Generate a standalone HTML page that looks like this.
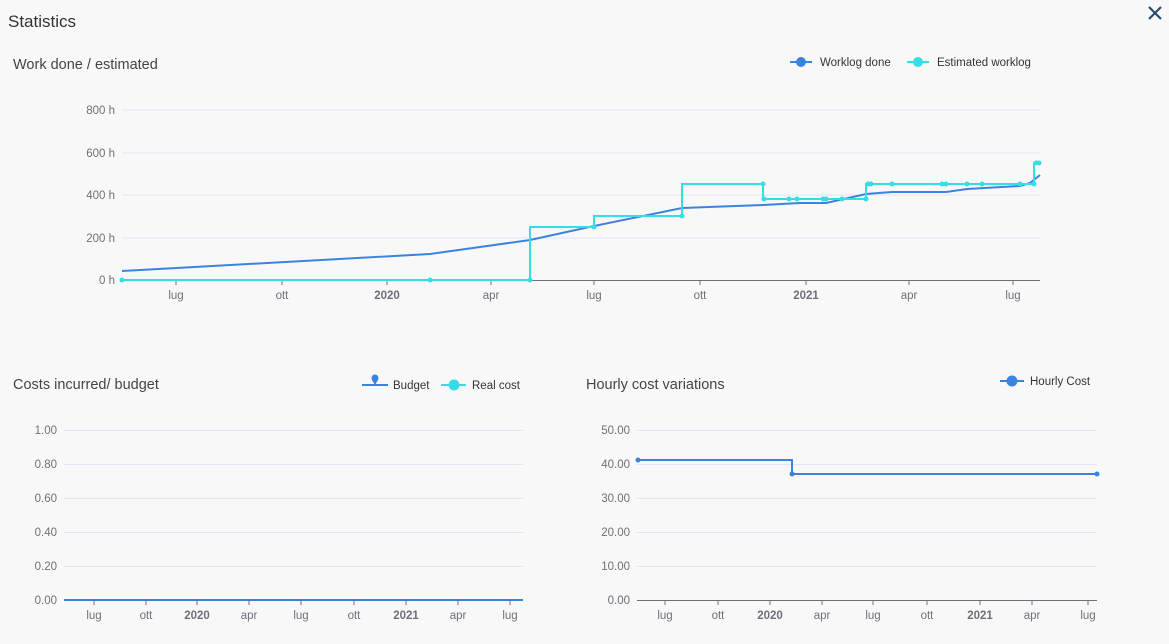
<!DOCTYPE html><html><head><style>
body{margin:0;background:#f8f8f9;width:1169px;height:644px;overflow:hidden;font-family:"Liberation Sans",sans-serif}
svg{position:absolute;left:0;top:0}
</style></head><body>
<svg width="1169" height="644" font-family="Liberation Sans, sans-serif">
<text x="8" y="27" font-size="17" fill="#333">Statistics</text>
<path d="M1149 7l12 12M1161 7l-12 12" stroke="#2b4a6e" stroke-width="2.2"/>
<text x="13" y="69" font-size="14.5" fill="#444">Work done / estimated</text>
<!-- legend top -->
<line x1="790" y1="62" x2="812" y2="62" stroke="#3a84e0" stroke-width="2"/><circle cx="801" cy="62" r="5" fill="#3a84e0"/>
<text x="820" y="66" font-size="11.5" fill="#333">Worklog done</text>
<line x1="907" y1="62" x2="929" y2="62" stroke="#36dde4" stroke-width="2"/><circle cx="918" cy="62" r="5" fill="#36dde4"/>
<text x="937" y="66" font-size="11.5" fill="#333">Estimated worklog</text>
<g stroke="#e0e6f1"><line x1="122" x2="1040" y1="110" y2="110"/><line x1="122" x2="1040" y1="153" y2="153"/><line x1="122" x2="1040" y1="195" y2="195"/><line x1="122" x2="1040" y1="238" y2="238"/></g>
<g font-size="11.5" fill="#6e7079" text-anchor="end"><text x="115" y="114">800 h</text><text x="115" y="157">600 h</text><text x="115" y="199">400 h</text><text x="115" y="242">200 h</text><text x="115" y="284">0 h</text></g>
<line x1="122" x2="1040" y1="280.5" y2="280.5" stroke="#6e7079"/>
<g stroke="#6e7079"><path d="M176 280v5M282 280v5M387 280v5M491 280v5M594 280v5M700 280v5M806 280v5M909 280v5M1013 280v5"/></g>
<g font-size="11.5" fill="#6e7079" text-anchor="middle"><text x="176" y="299">lug</text><text x="282" y="299">ott</text><text x="387" y="299" font-weight="bold">2020</text><text x="491" y="299">apr</text><text x="594" y="299">lug</text><text x="700" y="299">ott</text><text x="806" y="299" font-weight="bold">2021</text><text x="909" y="299">apr</text><text x="1013" y="299">lug</text></g>
<polyline fill="none" stroke="#3a84e0" stroke-width="2" points="122,271 430,254 480,247 530,240 594,226 682,208 763,205 800,203 826,203 866,194 892,192 946,192 967,189 1020,186 1030,183 1040,175"/>
<polyline fill="none" stroke="#36dde4" stroke-width="2" points="122,280 530,280 530,227 594,227 594,216 682,216 682,184 763,184 763,199 866,199 866,184 1034,184 1034,163 1040,163"/>
<g fill="#36dde4"><circle cx="122" cy="280" r="2.5"/><circle cx="430" cy="280" r="2.5"/><circle cx="530" cy="280" r="2.5"/><circle cx="594" cy="227" r="2.5"/><circle cx="682" cy="216" r="2.5"/><circle cx="763" cy="184" r="2.5"/><circle cx="764" cy="199" r="2.5"/><circle cx="789" cy="199" r="2.5"/><circle cx="797" cy="199" r="2.5"/><circle cx="823" cy="199" r="2.5"/><circle cx="826" cy="199" r="2.5"/><circle cx="842" cy="199" r="2.5"/><circle cx="866" cy="199" r="2.5"/><circle cx="868" cy="184" r="2.5"/><circle cx="871" cy="184" r="2.5"/><circle cx="892" cy="184" r="2.5"/><circle cx="942" cy="184" r="2.5"/><circle cx="946" cy="184" r="2.5"/><circle cx="967" cy="184" r="2.5"/><circle cx="982" cy="184" r="2.5"/><circle cx="1020" cy="184" r="2.5"/><circle cx="1034" cy="184" r="2.5"/><circle cx="1036" cy="163" r="2.5"/><circle cx="1039" cy="163" r="2.5"/></g>

<!-- bottom left -->
<text x="13" y="389" font-size="14.5" fill="#444">Costs incurred/ budget</text>
<line x1="362" y1="385" x2="388" y2="385" stroke="#3a84e0" stroke-width="2"/><circle cx="375" cy="378" r="3.5" fill="#3a84e0"/><path d="M372 380l3 5 3-5z" fill="#3a84e0"/>
<text x="393" y="389" font-size="11.5" fill="#333">Budget</text>
<line x1="441" y1="385" x2="466" y2="385" stroke="#36dde4" stroke-width="2"/><circle cx="454" cy="385" r="5.5" fill="#36dde4"/>
<text x="472" y="389" font-size="11.5" fill="#333">Real cost</text>
<g stroke="#e0e6f1"><path d="M64 430.5H523M64 464.5H523M64 498.5H523M64 532.5H523M64 566.5H523"/></g>
<g font-size="11.5" fill="#6e7079" text-anchor="end"><text x="57" y="434">1.00</text><text x="57" y="468">0.80</text><text x="57" y="502">0.60</text><text x="57" y="536">0.40</text><text x="57" y="570">0.20</text><text x="57" y="604">0.00</text></g>
<line x1="64" x2="523" y1="600" y2="600" stroke="#3a84e0" stroke-width="2"/>
<g stroke="#6e7079"><path d="M94 600v5M146 600v5M197 600v5M249 600v5M301 600v5M354 600v5M406 600v5M458 600v5M510 600v5"/></g>
<g font-size="11.5" fill="#6e7079" text-anchor="middle"><text x="94" y="619">lug</text><text x="146" y="619">ott</text><text x="197" y="619" font-weight="bold">2020</text><text x="249" y="619">apr</text><text x="301" y="619">lug</text><text x="354" y="619">ott</text><text x="406" y="619" font-weight="bold">2021</text><text x="458" y="619">apr</text><text x="510" y="619">lug</text></g>

<!-- bottom right -->
<text x="586" y="389" font-size="14.5" fill="#444">Hourly cost variations</text>
<line x1="1000" y1="381" x2="1024" y2="381" stroke="#3a84e0" stroke-width="2"/><circle cx="1012" cy="381" r="5.5" fill="#3a84e0"/>
<text x="1030" y="385" font-size="11.5" fill="#333">Hourly Cost</text>
<g stroke="#e0e6f1"><path d="M637 430.5H1097M637 464.5H1097M637 498.5H1097M637 532.5H1097M637 566.5H1097"/></g>
<g font-size="11.5" fill="#6e7079" text-anchor="end"><text x="630" y="434">50.00</text><text x="630" y="468">40.00</text><text x="630" y="502">30.00</text><text x="630" y="536">20.00</text><text x="630" y="570">10.00</text><text x="630" y="604">0.00</text></g>
<line x1="637" x2="1097" y1="600.5" y2="600.5" stroke="#6e7079"/>
<g stroke="#6e7079"><path d="M665 600v5M718 600v5M770 600v5M822 600v5M873 600v5M927 600v5M980 600v5M1032 600v5M1088 600v5"/></g>
<g font-size="11.5" fill="#6e7079" text-anchor="middle"><text x="665" y="619">lug</text><text x="718" y="619">ott</text><text x="770" y="619" font-weight="bold">2020</text><text x="822" y="619">apr</text><text x="873" y="619">lug</text><text x="927" y="619">ott</text><text x="980" y="619" font-weight="bold">2021</text><text x="1032" y="619">apr</text><text x="1088" y="619">lug</text></g>
<polyline fill="none" stroke="#3a84e0" stroke-width="2" points="637,460 792,460 792,474 1097,474"/>
<g fill="#3a84e0"><circle cx="638" cy="460" r="2.5"/><circle cx="792" cy="474" r="2.5"/><circle cx="1097" cy="474" r="2.5"/></g>
</svg>
</body></html>
